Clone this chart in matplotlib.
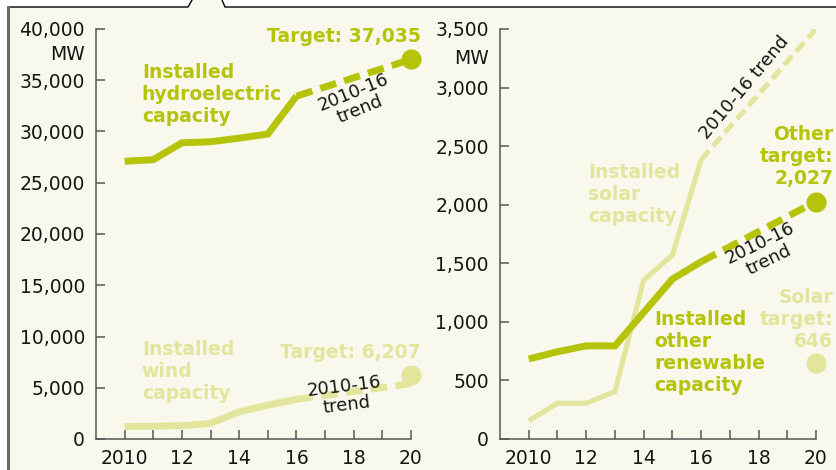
import numpy as np
import matplotlib as mpl
import matplotlib.pyplot as plt
from matplotlib.patches import Polygon
from matplotlib.lines import Line2D


YEARS = [2010, 2011, 2012, 2013, 2014, 2015, 2016]
HYDRO = [27100, 27250, 28900, 29000, 29350, 29750, 33450]
WIND = [1200, 1250, 1300, 1530, 2650, 3300, 3870]
SOLAR = [155, 305, 305, 405, 1355, 1570, 2385]
OTHER = [683, 745, 795, 795, 1080, 1365, 1513]

TREND_YEARS = [2016, 2020]
HYDRO_TREND_END = 37035
WIND_TREND_END = 5400
SOLAR_TREND_END = 3500
OTHER_TREND_END = 2027

TARGET_YEAR = 2020
HYDRO_TARGET = 37035
WIND_TARGET = 6207
OTHER_TARGET = 2027
SOLAR_TARGET = 646

X_TICKS = list(range(2010, 2021))
X_LABELS = ["2010", "", "12", "", "14", "", "16", "", "18", "", "20"]
LEFT_YTICKS = list(range(0, 40001, 5000))
RIGHT_YTICKS = list(range(0, 3501, 500))

COLORS = {
    "green": "#b5c30b",
    "light": "#e2e59b",
    "bg": "#f8f9ec",
    "axis": "#555555",
    "text": "#151515",
    "frame": "#6a6a6a",
}

W, H = 837, 470


def fx(px):
    return px / W


def fy(py):
    return 1 - py / H


def apply_style():
    mpl.rcParams.update(
        {
            "font.family": "DejaVu Sans",
            "font.size": 13.5,
            "text.color": COLORS["text"],
            "xtick.color": COLORS["axis"],
            "ytick.color": COLORS["axis"],
            "xtick.labelcolor": COLORS["text"],
            "ytick.labelcolor": COLORS["text"],
        }
    )


def style_axes(ax, yticks, ymax):
    ax.set_xlim(2009, 2020)
    ax.set_ylim(0, ymax)
    ax.patch.set_alpha(0)
    for side in ("top", "right"):
        ax.spines[side].set_visible(False)
    for side in ("left", "bottom"):
        ax.spines[side].set_color(COLORS["axis"])
        ax.spines[side].set_linewidth(1.1)
    ax.set_xticks(X_TICKS, X_LABELS)
    ax.set_yticks(yticks, [f"{v:,}" for v in yticks])
    ax.tick_params(direction="in", length=6.5, width=1.1, labelsize=13.5)
    ax.tick_params(axis="y", pad=8)
    ax.tick_params(axis="x", pad=7)


def series(ax, y, trend_end, color, lw):
    ax.plot(YEARS, y, color=color, lw=lw, solid_capstyle="butt",
            solid_joinstyle="miter", zorder=3)
    ax.plot(TREND_YEARS, [y[-1], trend_end], color=color, lw=lw,
            dashes=(2.4, 1.2), dash_capstyle="butt", zorder=3)


def target(ax, value, color):
    ax.plot([TARGET_YEAR], [value], "o", color=color, ms=14.5, mew=0,
            clip_on=False, zorder=4)


def main():
    apply_style()
    fig = plt.figure(figsize=(W / 100, H / 100), dpi=100)
    fig.patch.set_facecolor("white")

    # panel background with callout notch
    bg = Polygon(
        [(fx(8), fy(470)), (fx(8), fy(7)), (fx(188), fy(7)), (fx(192), fy(0)),
         (fx(222), fy(0)), (fx(225), fy(7)), (fx(837), fy(7)), (fx(837), fy(470))],
        closed=True, transform=fig.transFigure, facecolor=COLORS["bg"],
        edgecolor="none", zorder=-5,
    )
    fig.patches.append(bg)
    fig.lines.append(Line2D([fx(8), fx(188), fx(192)], [fy(7), fy(7), fy(0)],
                            transform=fig.transFigure, color="black", lw=1, zorder=-4))
    fig.lines.append(Line2D([fx(222), fx(225), fx(837)], [fy(0), fy(7), fy(7)],
                            transform=fig.transFigure, color="black", lw=1, zorder=-4))
    fig.lines.append(Line2D([fx(8), fx(8)], [fy(7), fy(470)],
                            transform=fig.transFigure, color=COLORS["frame"], lw=2.2,
                            zorder=-4))

    ax1 = fig.add_axes([fx(96), fy(439), fx(315), 410 / H])
    ax2 = fig.add_axes([fx(500), fy(439), fx(316), 410 / H])
    style_axes(ax1, LEFT_YTICKS, 40000)
    style_axes(ax2, RIGHT_YTICKS, 3500)

    # left panel: hydro and wind
    series(ax1, WIND, WIND_TREND_END, COLORS["light"], 5)
    series(ax1, HYDRO, HYDRO_TREND_END, COLORS["green"], 5)
    target(ax1, HYDRO_TARGET, COLORS["green"])
    target(ax1, WIND_TARGET, COLORS["light"])

    bold = dict(fontweight="bold", fontsize=13.5, linespacing=1.2)
    trend = dict(ha="center", va="center", rotation_mode="anchor",
                 linespacing=1.05, fontsize=13)
    ax1.text(2010.6, 36700, "Installed\nhydroelectric\ncapacity", color=COLORS["green"],
             va="top", ha="left", **bold)
    ax1.text(2020.35, 39300, f"Target: {HYDRO_TARGET:,}", color=COLORS["green"],
             va="center", ha="right", **bold)
    ax1.text(2018.1, 33000, "2010-16\ntrend", rotation=22, **trend)
    ax1.text(2010.6, 9650, "Installed\nwind\ncapacity", color=COLORS["light"],
             va="top", ha="left", **bold)
    ax1.text(2020.35, 8400, f"Target: {WIND_TARGET:,}", color=COLORS["light"],
             va="center", ha="right", **bold)
    ax1.text(2017.7, 4200, "2010-16\ntrend", rotation=7, **trend)
    ax1.text(-0.035, 0.937, "MW", transform=ax1.transAxes, ha="right", va="center")

    # right panel: solar and other renewables
    series(ax2, SOLAR, SOLAR_TREND_END, COLORS["light"], 3.6)
    series(ax2, OTHER, OTHER_TREND_END, COLORS["green"], 5)
    target(ax2, OTHER_TARGET, COLORS["green"])
    target(ax2, SOLAR_TARGET, COLORS["light"])

    ax2.text(2012.06, 2356, "Installed\nsolar\ncapacity", color=COLORS["light"],
             va="top", ha="left", **bold)
    ax2.text(2017.5, 3000, "2010-16 trend", rotation=50, ha="center", va="center",
             rotation_mode="anchor", fontsize=13)
    ax2.text(2020.6, 2680, f"Other\ntarget:\n{OTHER_TARGET:,}", color=COLORS["green"],
             va="top", ha="right", multialignment="right", **bold)
    ax2.text(2018.2, 1600, "2010-16\ntrend", rotation=26, **trend)
    ax2.text(2020.6, 1289, f"Solar\ntarget:\n{SOLAR_TARGET}", color=COLORS["light"],
             va="top", ha="right", multialignment="right", **bold)
    ax2.text(2014.36, 1100, "Installed\nother\nrenewable\ncapacity", color=COLORS["green"],
             va="top", ha="left", **bold)
    ax2.text(-0.035, 0.929, "MW", transform=ax2.transAxes, ha="right", va="center")

    fig.savefig("out.png", dpi=100, facecolor=fig.get_facecolor())
    plt.close(fig)


if __name__ == "__main__":
    main()
